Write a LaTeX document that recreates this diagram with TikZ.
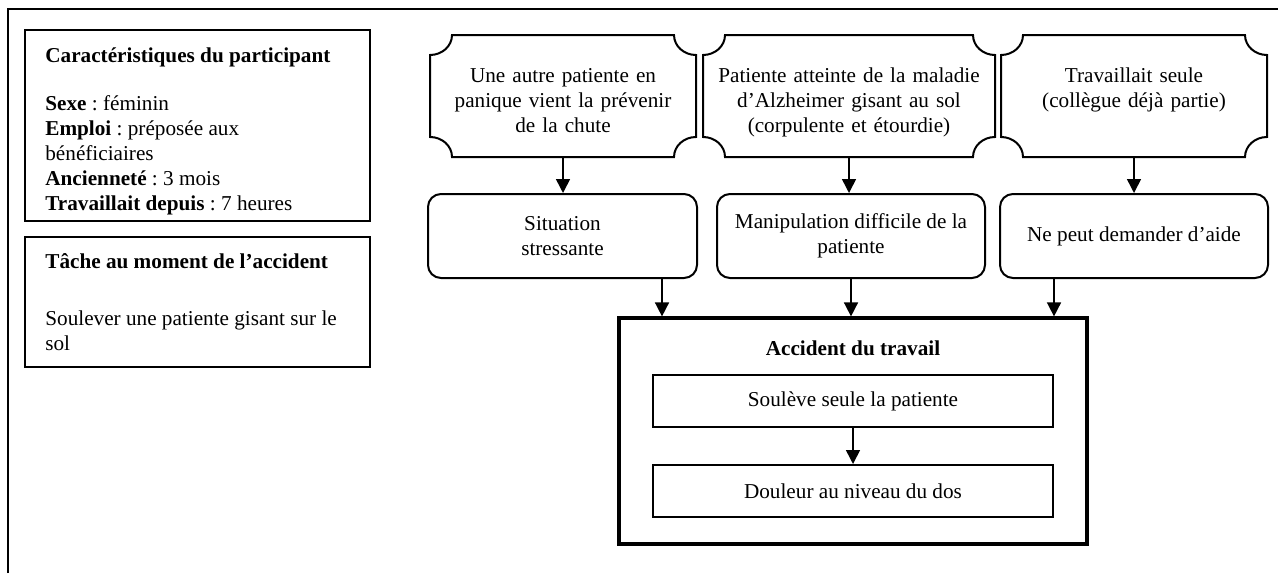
\documentclass[tikz,border=0pt]{standalone}
\usepackage{fontspec}
\setmainfont{Liberation Serif}
\usetikzlibrary{arrows.meta}
\newcommand\mainfnt{\fontsize{10.6}{12.5}\selectfont}
\newcommand\natsp{\spaceskip=0pt\xspaceskip=0pt\relax}
% box with concave (scalloped) corners drawn around an invisible node
\newcommand\plaquebox[1]{%
  \draw[boxline]
    ([xshift=11pt]#1.north west) -- ([xshift=-11pt]#1.north east)
    arc[start angle=180,end angle=270,x radius=11pt,y radius=10pt]
    -- ([yshift=10pt]#1.south east)
    arc[start angle=90,end angle=180,x radius=11pt,y radius=10pt]
    -- ([xshift=11pt]#1.south west)
    arc[start angle=0,end angle=90,x radius=11pt,y radius=10pt]
    -- ([yshift=-10pt]#1.north west)
    arc[start angle=270,end angle=360,x radius=11pt,y radius=10pt]
    -- cycle;}
\tikzset{
  frame/.style={line width=1pt},
  boxline/.style={draw, line width=1pt},
  sqbox/.style={boxline, inner sep=0pt, align=center, font=\mainfnt},
  rbox/.style={sqbox, rounded corners=6.5pt},
  bigbox/.style={draw, line width=1.6pt, inner sep=0pt},
  ghost/.style={inner sep=0pt, outer sep=0pt, draw=none},
  txt/.style={inner sep=0pt, font=\mainfnt},
  arr/.style={-{Triangle[width=7pt,length=7pt]}, line width=0.8pt},
}
\begin{document}
\frenchspacing
\begin{tikzpicture}[x=0.5pt,y=0.5pt]
\useasboundingbox (0,0) rectangle (1278,-573);
% outer frame
\coordinate (fa) at (8,-573);
\coordinate (fb) at (8,-9);
\coordinate (fc) at (1278,-9);
\draw[frame] (fa) -- (fb) -- (fc);

% left boxes
\node[sqbox, minimum width=172.5pt, minimum height=95.5pt] (L1) at (197.5,-125.5) {};
\node[sqbox, minimum width=172.5pt, minimum height=65pt] (L2) at (197.5,-302) {};
\node[txt, anchor=base west] (L1t) at (45,-62) {\textbf{Caractéristiques du participant}};
\node[txt, anchor=base west, text width=165pt, align=left, font=\fontsize{10.6}{12.6}\selectfont] (L1b) at (45,-110)
  {\natsp\textbf{Sexe} : féminin\\\textbf{Emploi} : préposée aux\\bénéficiaires\\\textbf{Ancienneté} : 3 mois\\\textbf{Travaillait depuis} : 7 heures};
\node[txt, anchor=base west] (L2t) at (45,-268) {\textbf{Tâche au moment de l’accident}};
\node[txt, anchor=base west, text width=165pt, align=left] (L2b) at (45,-325)
  {\natsp Soulever une patiente gisant sur le\\sol};

% top boxes
\node[ghost, minimum width=133pt, minimum height=61pt] (A) at (563,-96) {};
\plaquebox{A}
\node[txt, anchor=base, text width=130pt, align=center] (At) at (563,-82)
  {Une autre patiente en\\panique vient la prévenir\\de la chute};
\node[ghost, minimum width=146pt, minimum height=61pt] (B) at (849,-96) {};
\plaquebox{B}
\node[txt, anchor=base, text width=145pt, align=center] (Bt) at (849,-82)
  {Patiente atteinte de la maladie\\d’Alzheimer gisant au sol\\(corpulente et étourdie)};
\node[ghost, minimum width=133pt, minimum height=61pt] (C) at (1134,-96) {};
\plaquebox{C}
\node[txt, anchor=base, text width=130pt, align=center] (Ct) at (1134,-82)
  {Travaillait seule\\(collègue déjà partie)};

% middle rounded boxes
\node[rbox, minimum width=134.5pt, minimum height=42pt] (D) at (562.5,-236) {Situation\\stressante};
\node[rbox, minimum width=134pt, minimum height=42pt] (E) at (851,-236) {Manipulation difficile de la\\patiente};
\node[rbox, minimum width=134pt, minimum height=42pt] (F) at (1134,-236) {Ne peut demander d’aide};

% accident box
\node[bigbox, minimum width=234pt, minimum height=113pt] (G) at (853,-431) {};
\node[txt, anchor=base] (Gt) at (853,-355) {\textbf{Accident du travail}};
\node[sqbox, minimum width=200pt, minimum height=26pt] (I1) at (853,-401) {Soulève seule la patiente};
\node[sqbox, minimum width=200pt, minimum height=26pt] (I2) at (853,-491) {Douleur au niveau du dos};

% connectors
\draw[arr] (A.south) -- (A.south |- D.north);
\draw[arr] (B.south) -- (B.south |- E.north);
\draw[arr] (C.south) -- (C.south |- F.north);
\draw[arr] ([xshift=49.75pt]D.south) -- ([xshift=49.75pt]D.south |- G.north);
\draw[arr] (E.south) -- (E.south |- G.north);
\draw[arr] ([xshift=-40pt]F.south) -- ([xshift=-40pt]F.south |- G.north);
\draw[arr] (I1.south) -- (I2.north);
\end{tikzpicture}
\end{document}
